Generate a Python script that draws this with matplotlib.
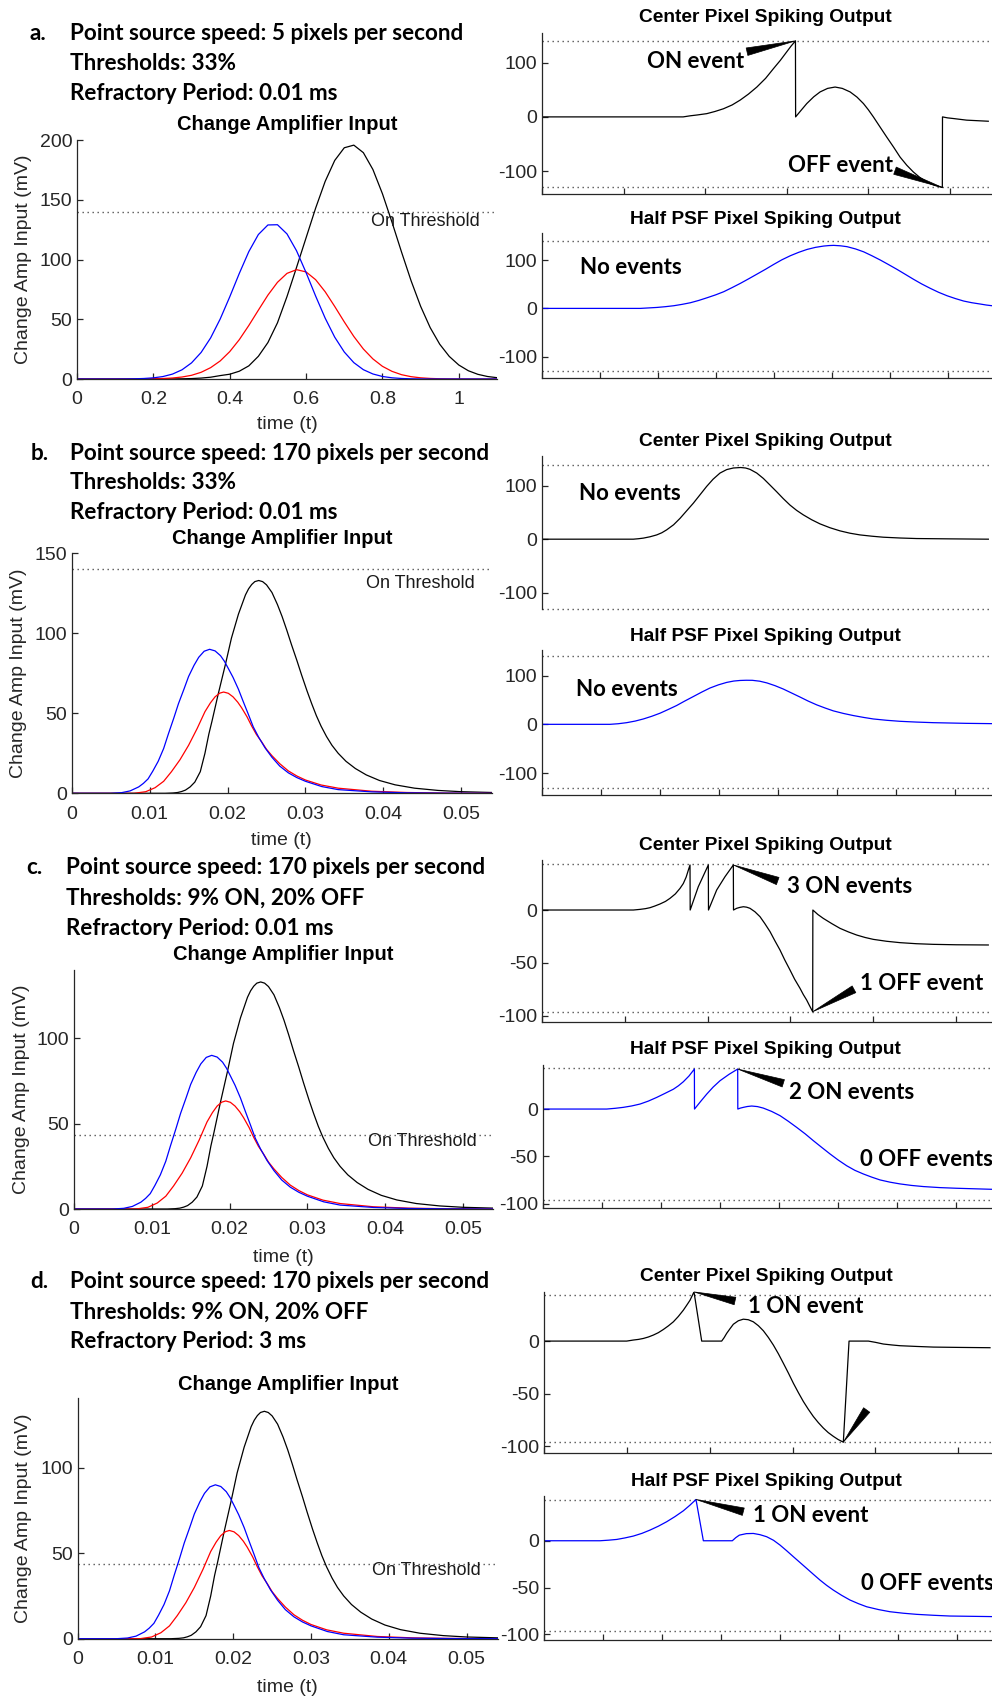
import numpy as np
import matplotlib.pyplot as plt
from matplotlib.patches import ArrowStyle

plt.rcParams['font.family'] = ['Liberation Sans', 'DejaVu Sans']
plt.rcParams['axes.unicode_minus'] = False

# ---------------- data ----------------
# panel a: change amplifier input (time in s, mV)
t_a = [0, 0.05, 0.1, 0.125, 0.15, 0.175, 0.2, 0.225, 0.25, 0.275, 0.3, 0.325, 0.35,
       0.375, 0.4, 0.425, 0.45, 0.475, 0.5, 0.525, 0.55, 0.575, 0.6, 0.625, 0.65,
       0.675, 0.7, 0.725, 0.75, 0.775, 0.8, 0.825, 0.85, 0.875, 0.9, 0.925, 0.95,
       0.975, 1.0, 1.025, 1.05, 1.075, 1.1]
blue_a = [0, 0, 0.02, 0.07, 0.18, 0.43, 0.97, 2.05, 4.1, 7.7, 13.5, 22.2, 34.4,
          50.2, 68.7, 88.3, 106.6, 120.9, 128.9, 129.1, 121.4, 107.3, 89, 69.4, 50.9,
          35, 22.6, 13.7, 7.8, 4.2, 2.1, 1.0, 0.44, 0.18, 0.07, 0.02, 0,
          0, 0, 0, 0, 0, 0]
red_a = [0, 0, 0, 0.01, 0.02, 0.07, 0.18, 0.4, 0.83, 1.66, 3.1, 5.6, 9.5,
         15.1, 22.9, 32.9, 44.8, 57.6, 70.2, 80.9, 88.4, 91.5, 89.6, 83.1, 73,
         60.7, 47.8, 35.6, 25.1, 16.8, 10.6, 6.4, 3.6, 1.94, 0.99, 0.47, 0.22,
         0.1, 0.04, 0.01, 0, 0, 0]
black_a = [0, 0, 0, 0, 0, 0, 0, 0.03, 0.08, 0.17, 0.37, 0.77, 1.5,
           2.85, 4.0, 6.5, 11, 19, 30.5, 47, 69, 93.4, 118.2, 143, 165.4,
           182.9, 193.5, 195.7, 189.4, 175.3, 155, 131.2, 106.2, 82.2, 60.8, 43, 29.1,
           18.9, 11.7, 6.9, 3.9, 2.1, 1.1]

# panels b, c, d share the same change amplifier input (170 px/s)
t_blue = [0, 0.005, 0.0064, 0.0075, 0.0086, 0.0092, 0.0098, 0.0104, 0.0111, 0.0118,
          0.0124, 0.0131, 0.0137, 0.0144, 0.0150, 0.0157, 0.0163, 0.0170, 0.0177,
          0.0184, 0.0191, 0.0196, 0.0201, 0.0207, 0.0214, 0.0220, 0.0227, 0.0233,
          0.0240, 0.0248, 0.0257, 0.0267, 0.0278, 0.0289, 0.0300, 0.0321, 0.0342,
          0.0385, 0.043, 0.048, 0.054]
blue_bcd = [0, 0, 0.4, 1.5, 4, 6.2, 9, 13.8, 20, 28,
            37, 47, 56, 65, 73, 80, 85, 88.8, 90,
            89, 86, 82.5, 78, 72.5, 65, 57.5, 49, 41.5,
            35, 28.5, 22.5, 17, 12.8, 9.8, 7.5, 4.2, 2.3,
            0.9, 0.3, 0.1, 0]
t_red = [0, 0.008, 0.0095, 0.0107, 0.0118, 0.0128, 0.0139, 0.015, 0.0161, 0.0171,
         0.0178, 0.0184, 0.0190, 0.0195, 0.0201, 0.0207, 0.0213, 0.0218, 0.0225,
         0.0231, 0.0237, 0.0244, 0.0250, 0.0257, 0.0267, 0.0278, 0.0289, 0.030,
         0.032, 0.0342, 0.0385, 0.043, 0.048, 0.054]
red_bcd = [0, 0, 1, 3.5, 7.5, 13.5, 21, 30, 40.5, 51,
           56.5, 60.3, 62.6, 63.3, 62.5, 60.3, 57, 53.5, 47.8,
           42, 36.8, 32, 27.5, 23.5, 18.5, 14, 10.8, 8.3,
           5.2, 3.2, 1.3, 0.5, 0.15, 0]
t_black = [0, 0.012, 0.0130, 0.0136, 0.0141, 0.0146, 0.0152, 0.0158, 0.0165, 0.0171,
           0.0176, 0.0180, 0.0188, 0.0197, 0.0205, 0.0214, 0.0223, 0.0227, 0.0231,
           0.0235, 0.0240, 0.0245, 0.0250, 0.0257, 0.0264, 0.0270, 0.0276, 0.0282,
           0.0289, 0.0295, 0.0302, 0.0308, 0.0314, 0.0320, 0.0327, 0.0334, 0.0342,
           0.0352, 0.0364, 0.0378, 0.0395, 0.0415, 0.044, 0.047, 0.050, 0.054]
black_bcd = [0, 0, 0.2, 0.5, 1.1, 2, 4, 7, 13.5, 25,
             37, 45, 62, 80, 97, 112, 124, 127.8, 130.5,
             132.3, 133, 132.3, 130.3, 125.5, 118, 110.5, 102, 93,
             83, 74, 64, 56, 48.5, 42, 35.5, 30, 25,
             20, 15.5, 11.5, 8, 5.3, 3.2, 1.8, 1, 0.5]

# spiking outputs (x in tick units of each unlabeled time axis, mV)
u_a_c = [0, 1.73, 1.816, 1.9, 2.02, 2.12, 2.224, 2.33, 2.429, 2.53, 2.633, 2.74, 2.837,
         2.92, 3.0, 3.05, 3.106, 3.108, 3.18, 3.245, 3.33, 3.408, 3.5, 3.592, 3.68, 3.776,
         3.86, 3.939, 4.0, 4.061, 4.14, 4.224, 4.31, 4.388, 4.47, 4.551, 4.63, 4.714,
         4.81, 4.906, 4.908, 4.97, 5.041, 5.204, 5.469]
v_a_c = [0, 0, 2, 3.5, 6, 10, 15, 22, 31, 42, 55, 71, 89,
         104, 120, 130, 140, 0, 13, 24.6, 37, 46, 52.5, 55, 52.5, 46,
         36.5, 24.6, 13, 0, -18, -37, -56, -74, -89, -101.5, -111.5, -120,
         -126, -130, 0, -1.8, -3, -6, -8]
u_a_h = [0, 1.693, 1.981, 2.12, 2.268, 2.41, 2.555, 2.70, 2.842, 2.99, 3.129, 3.27,
         3.416, 3.56, 3.703, 3.85, 3.99, 4.13, 4.277, 4.42, 4.564, 4.71, 4.851, 4.94,
         5.023, 5.14, 5.253, 5.40, 5.54, 5.68, 5.827, 5.97, 6.114, 6.26, 6.401, 6.54,
         6.688, 6.83, 6.975, 7.12, 7.262, 7.40, 7.549, 7.65, 7.75]
v_a_h = [0, 0, 2, 3.5, 5.5, 8.3, 11.7, 16.5, 22, 28, 34.5, 42.8,
         51.8, 61.3, 71, 81, 91, 100.5, 109, 116, 122, 126.3, 129, 130,
         130.4, 129.5, 127.7, 123, 117, 109, 100, 90.5, 80.7, 70.2, 60, 50.5,
         41.4, 33.3, 26.2, 20.3, 15.2, 11.8, 9, 7, 5.5]

u_b_c = [0, 1.548, 1.63, 1.718, 1.83, 1.944, 2.03, 2.113, 2.23, 2.339, 2.45, 2.565,
         2.68, 2.791, 2.9, 3.017, 3.13, 3.243, 3.367, 3.45, 3.525, 3.64, 3.751, 3.86,
         3.977, 4.09, 4.203, 4.316, 4.429, 4.57, 4.712, 4.88, 5.051, 5.22, 5.39, 5.59,
         5.785, 6.07, 6.35, 6.915, 7.565]
v_b_c = [0, 0, 0.8, 2, 4.5, 8, 12, 17.5, 27, 39, 53, 67.5,
         83.5, 99, 112.5, 124, 130.5, 133.5, 134.4, 133.5, 131, 124, 114, 102,
         89, 76, 64, 54, 45.6, 36.5, 28.7, 21.5, 15.6, 11.2, 8, 5.6,
         3.7, 2.2, 1.2, 0.6, 0]
u_b_h = [0, 1.153, 1.29, 1.435, 1.58, 1.718, 1.86, 2.0, 2.14, 2.282, 2.42, 2.565,
         2.71, 2.847, 2.99, 3.13, 3.25, 3.356, 3.46, 3.565, 3.69, 3.811, 3.95, 4.09,
         4.23, 4.373, 4.51, 4.655, 4.8, 4.938, 5.11, 5.277, 5.45, 5.616, 5.84, 6.068,
         6.35, 6.633, 7.198, 7.621]
v_b_h = [0, 0, 1.2, 3.4, 6.7, 11, 16.5, 22.8, 30.5, 38.6, 47.8, 57,
         66.3, 74.5, 81, 86, 88.8, 90, 90.4, 90.3, 88.5, 85, 79.3, 72.4,
         64.3, 56, 47.8, 40, 33.4, 27.6, 22.3, 18, 14.2, 11, 8.3, 6.2,
         4.6, 3.4, 2, 1.4]

u_c_c = [0, 1.103, 1.183, 1.25, 1.304, 1.36, 1.425, 1.49, 1.545, 1.61, 1.666, 1.706,
         1.74, 1.767, 1.787, 1.789, 1.887, 2.008, 2.010, 2.109, 2.209, 2.31, 2.312, 2.35,
         2.39, 2.431, 2.47, 2.511, 2.57, 2.632, 2.69, 2.753, 2.81, 2.873, 2.93, 2.994,
         3.05, 3.115, 3.155, 3.195, 3.23, 3.268, 3.270, 3.33, 3.396, 3.5, 3.598, 3.7,
         3.799, 3.9, 4.0, 4.16, 4.322, 4.52, 4.724, 5.0, 5.388]
v_c_c = [0, 0, 0.6, 1.3, 2.2, 3.7, 5.7, 8.1, 11, 15.2, 20.4, 25,
         31, 37.7, 42.5, 0, 22, 42.5, 0, 18.9, 31.4, 42.5, 0, 1.6,
         2.5, 3.1, 2.7, 1.6, -1.6, -6.3, -12.8, -20.4, -28.8, -37.7, -47, -56.6,
         -65.3, -73.9, -79.8, -84.9, -90.3, -96, 0, -4.2, -7.9, -12.9, -17.3, -20.7,
         -23.6, -25.9, -27.7, -29.5, -30.8, -31.8, -32.4, -32.8, -33]
u_c_h = [0, 1.085, 1.23, 1.367, 1.51, 1.65, 1.79, 1.932, 2.07, 2.215, 2.30, 2.384,
         2.48, 2.571, 2.573, 2.68, 2.78, 2.89, 3.006, 3.16, 3.305, 3.307, 3.35, 3.401,
         3.47, 3.542, 3.64, 3.74, 3.88, 4.023, 4.16, 4.305, 4.45, 4.588, 4.73, 4.87,
         5.01, 5.153, 5.29, 5.435, 5.58, 5.718, 5.89, 6.056, 6.25, 6.452, 6.73, 7.017,
         7.61]
v_c_h = [0, 0, 0.8, 1.8, 3.3, 5.3, 8.4, 12.3, 16.5, 21, 24.6, 28.9,
         35, 42.3, 0, 8.3, 15.8, 23.3, 30, 36.8, 42.3, 0, 1, 1.8,
         2.7, 3.2, 2.6, 1, -2.5, -7, -12.8, -19.4, -26.3, -33.5, -40.6, -47.5,
         -54, -60, -64.8, -68.7, -72.1, -75, -77.4, -79.2, -80.8, -82, -83.1, -83.8,
         -84.9]

u_d_c = [0, 0.998, 1.078, 1.14, 1.199, 1.26, 1.319, 1.38, 1.44, 1.50, 1.561, 1.62,
         1.681, 1.72, 1.762, 1.81, 1.903, 2.144, 2.174, 2.204, 2.245, 2.285, 2.345, 2.405,
         2.465, 2.526, 2.587, 2.647, 2.708, 2.768, 2.828, 2.888, 2.95, 3.009, 3.07, 3.13,
         3.19, 3.25, 3.31, 3.371, 3.43, 3.492, 3.55, 3.612, 3.681, 3.914, 4.0, 4.095,
         4.2, 4.296, 4.5, 4.698, 5.0, 5.382]
v_d_c = [0, 0, 1, 1.6, 2.5, 3.9, 5.7, 8, 11, 14.4, 18.3, 23.3,
         29.3, 33.8, 38.8, 46.7, 0, 0, 3.3, 7.3, 11.8, 16, 19.3, 20.8,
         20.3, 18.3, 14.6, 9.8, 3.4, -3.8, -12, -21, -30.5, -40, -49, -57.4,
         -64.8, -71.6, -77.4, -82.6, -86.9, -90.5, -93.5, -96, 0, 0, -1.2, -2.8,
         -3.7, -4.4, -5.1, -5.7, -6.0, -6.3]
u_d_h = [0, 0.949, 1.09, 1.232, 1.37, 1.514, 1.66, 1.797, 1.94, 2.079, 2.22, 2.362,
         2.47, 2.576, 2.701, 3.192, 3.25, 3.311, 3.43, 3.548, 3.66, 3.774, 3.89, 4.0,
         4.11, 4.226, 4.34, 4.452, 4.565, 4.678, 4.79, 4.904, 5.045, 5.186, 5.33, 5.469,
         5.67, 5.864, 6.09, 6.316, 6.6, 6.881, 7.588]
v_d_h = [0, 0, 0.6, 1.4, 3, 5, 7.9, 11.4, 15.6, 20.3, 25.8, 32,
         37.8, 44.1, 0, 0, 3.3, 6, 7.6, 7.8, 6.5, 4.3, 0.5, -4.6,
         -10.5, -17, -23.3, -29.5, -35.8, -42, -47.6, -52.7, -58.3, -63.3, -67.2, -70.5,
         -73.5, -75.8, -77.4, -78.6, -79.6, -80.4, -81]

# thresholds (mV)
on_thr_33 = 140
off_thr_33 = -130
on_thr_9 = 43.4
off_thr_20 = -96

headings = {
    'a': ["Point source speed: 5 pixels per second", "Thresholds: 33%",
          "Refractory Period: 0.01 ms"],
    'b': ["Point source speed: 170 pixels per second", "Thresholds: 33%",
          "Refractory Period: 0.01 ms"],
    'c': ["Point source speed: 170 pixels per second", "Thresholds: 9% ON, 20% OFF",
          "Refractory Period: 0.01 ms"],
    'd': ["Point source speed: 170 pixels per second", "Thresholds: 9% ON, 20% OFF",
          "Refractory Period: 3 ms"],
}

# ---------------- layout helpers (pixel boxes, top-left origin) ----------------
W, H = 992, 1697
fig = plt.figure(figsize=(W / 100, H / 100), dpi=100)

AXC = '#262626'
DOT = dict(color='#555555', lw=1.0, ls=(0, (1, 2.6)))
HEAD_FONT = 'Lato'
LW = 0.9


def box(x0, y0, x1, y1):
    return [x0 / W, 1 - y1 / H, (x1 - x0) / W, (y1 - y0) / H]


def fpt(x, y):
    return (x / W, 1 - y / H)


def style(ax, fs):
    ax.spines['top'].set_visible(False)
    ax.spines['right'].set_visible(False)
    for s in ['left', 'bottom']:
        ax.spines[s].set_color(AXC)
        ax.spines[s].set_linewidth(0.9)
    ax.tick_params(direction='in', length=4.5, width=0.9, colors=AXC, labelsize=fs)
    ax.patch.set_alpha(0)


def ftext(x, y, s, **kw):
    fig.text(*fpt(x, y), s, **kw)


# ---------------- left column: change amplifier input ----------------
left_panels = [
    dict(box=(77, 140, 497, 379), data=[(t_a, blue_a), (t_a, red_a), (t_a, black_a)],
         xlim=(0, 1.1), xticks=[0, 0.2, 0.4, 0.6, 0.8, 1.0],
         xlabels=['0', '0.2', '0.4', '0.6', '0.8', '1'],
         ylim=(0, 200), yticks=[0, 50, 100, 150, 200], thr=on_thr_33,
         thr_txt=(371, 222), title_y=124, ylab_x=24, xlab_y=425),
    dict(box=(71.7, 553.3, 491.7, 793.3),
         data=[(t_blue, blue_bcd), (t_red, red_bcd), (t_black, black_bcd)],
         xlim=(0, 0.0539), xticks=[0, 0.01, 0.02, 0.03, 0.04, 0.05],
         xlabels=['0', '0.01', '0.02', '0.03', '0.04', '0.05'],
         ylim=(0, 150), yticks=[0, 50, 100, 150], thr=on_thr_33,
         thr_txt=(365.7, 583.3), title_y=538.3, ylab_x=19, xlab_y=840),
    dict(box=(74, 970, 493.3, 1209),
         data=[(t_blue, blue_bcd), (t_red, red_bcd), (t_black, black_bcd)],
         xlim=(0, 0.0539), xticks=[0, 0.01, 0.02, 0.03, 0.04, 0.05],
         xlabels=['0', '0.01', '0.02', '0.03', '0.04', '0.05'],
         ylim=(0, 140), yticks=[0, 50, 100], thr=on_thr_9,
         thr_txt=(367.7, 1141.7), title_y=954, ylab_x=22, xlab_y=1258),
    dict(box=(77.7, 1398.3, 497.7, 1638.7),
         data=[(t_blue, blue_bcd), (t_red, red_bcd), (t_black, black_bcd)],
         xlim=(0, 0.054), xticks=[0, 0.01, 0.02, 0.03, 0.04, 0.05],
         xlabels=['0', '0.01', '0.02', '0.03', '0.04', '0.05'],
         ylim=(0, 140.6), yticks=[0, 50, 100], thr=on_thr_9,
         thr_txt=(371.7, 1570.7), title_y=1384, ylab_x=24, xlab_y=1687),
]

for p in left_panels:
    ax = fig.add_axes(box(*p['box']))
    style(ax, 14)
    ax.axhline(p['thr'], **DOT)
    # black first so blue/red draw on top like the original
    (tb, yb), (tr, yr), (tk, yk) = p['data']
    ax.plot(tk, yk, color='black', lw=LW)
    ax.plot(tr, yr, color='#ff0000', lw=LW)
    ax.plot(tb, yb, color='#0000ff', lw=LW)
    ax.set_xlim(*p['xlim'])
    ax.set_ylim(*p['ylim'])
    ax.set_xticks(p['xticks'])
    ax.set_xticklabels(p['xlabels'])
    ax.set_yticks(p['yticks'])
    ax.tick_params(axis='x', pad=9)
    x0, y0, x1, y1 = p['box']
    ftext((x0 + x1) / 2, p['title_y'], 'Change Amplifier Input', ha='center',
          va='center', fontsize=14.5, fontweight='bold')
    ftext(p['ylab_x'], (y0 + y1) / 2, 'Change Amp Input (mV)', ha='center',
          va='center', rotation=90, fontsize=14, color=AXC)
    ftext((x0 + x1) / 2, p['xlab_y'], 'time (t)', ha='center', va='center',
          fontsize=14, color=AXC)
    ftext(p['thr_txt'][0], p['thr_txt'][1], 'On Threshold', ha='left', va='center',
          fontsize=13, color='#1a1a1a')

# ---------------- headings ----------------
head_pos = {'a': (30, 70, [33, 63, 94]), 'b': (30.7, 70, [453.3, 482.7, 512.7]),
            'c': (26.7, 65.7, [867.7, 898.3, 928.7]), 'd': (30, 70, [1281.7, 1312.7, 1342])}
for key, lines in headings.items():
    xl, xt, ys = head_pos[key]
    ftext(xl, ys[0], key + '.', ha='left', va='center', fontsize=16.2,
          fontweight='bold', family=HEAD_FONT)
    for s, y in zip(lines, ys):
        ftext(xt, y, s, ha='left', va='center', fontsize=16.2, fontweight='bold',
              family=HEAD_FONT)

# ---------------- right column: spiking outputs ----------------
right_panels = [
    dict(box=(542, 33.3, 992, 194.3), u=u_a_c, v=v_a_c, col='black', ylim=(-142.6, 154),
         yticks=[-100, 0, 100], nt=6, thr=(on_thr_33, off_thr_33),
         title='Center Pixel Spiking Output', title_y=18),
    dict(box=(542, 233, 992, 378), u=u_a_h, v=v_a_h, col='#0000ff', ylim=(-144, 156),
         yticks=[-100, 0, 100], nt=8, thr=(on_thr_33, off_thr_33),
         title='Half PSF Pixel Spiking Output', title_y=220),
    dict(box=(542, 456, 992, 609.3), u=u_b_c, v=v_b_c, col='black', ylim=(-131.5, 156),
         yticks=[-100, 0, 100], nt=0, thr=(on_thr_33, off_thr_33),
         title='Center Pixel Spiking Output', title_y=441.7),
    dict(box=(542, 650, 992, 795), u=u_b_h, v=v_b_h, col='#0000ff', ylim=(-145, 152.5),
         yticks=[-100, 0, 100], nt=8, thr=(on_thr_33, off_thr_33),
         title='Half PSF Pixel Spiking Output', title_y=636.7),
    dict(box=(542, 860, 992, 1021.7), u=u_c_c, v=v_c_c, col='black', ylim=(-105.4, 47.2),
         yticks=[-100, -50, 0], nt=6, thr=(on_thr_9, off_thr_20),
         title='Center Pixel Spiking Output', title_y=845.7),
    dict(box=(542.7, 1065, 992, 1208.3), u=u_c_h, v=v_c_h, col='#0000ff', ylim=(-105, 46.6),
         yticks=[-100, -50, 0], nt=8, thr=(on_thr_9, off_thr_20),
         title='Half PSF Pixel Spiking Output', title_y=1050),
    dict(box=(544, 1291.7, 992, 1452.7), u=u_d_c, v=v_d_c, col='black', ylim=(-106, 46.9),
         yticks=[-100, -50, 0], nt=6, thr=(on_thr_9, off_thr_20),
         title='Center Pixel Spiking Output', title_y=1276.7),
    dict(box=(544, 1496, 992, 1640), u=u_d_h, v=v_d_h, col='#0000ff', ylim=(-106, 47.8),
         yticks=[-100, -50, 0], nt=8, thr=(on_thr_9, off_thr_20),
         title='Half PSF Pixel Spiking Output', title_y=1481.7),
]
tick_px = [81.6, 58.07, 59, 59, 82.83, 59, 82.87, 59]

raxes = []
for p, tp in zip(right_panels, tick_px):
    ax = fig.add_axes(box(*p['box']))
    style(ax, 14)
    x0, y0, x1, y1 = p['box']
    ax.set_xlim(0, (x1 - x0) / tp)
    ax.set_ylim(*p['ylim'])
    ax.axhline(p['thr'][0], **DOT)
    ax.axhline(p['thr'][1], clip_on=False, **DOT)
    ax.plot(p['u'], p['v'], color=p['col'], lw=LW)
    ax.set_yticks(p['yticks'])
    if p['nt']:
        ax.set_xticks(range(p['nt']))
        ax.set_xticklabels([])
    else:
        ax.spines['bottom'].set_visible(False)
        ax.set_xticks([])
    ftext((x0 + x1) / 2 - 2, p['title_y'], p['title'], ha='center', va='center',
          fontsize=13.8, fontweight='bold')
    raxes.append(ax)

# ---------------- event labels and wedge pointers ----------------
def label(x, y, s):
    ftext(x, y, s, ha='left', va='center', fontsize=16, fontweight='bold',
          family=HEAD_FONT)


def on_tip(u, v):
    vv = np.array(v)
    i = np.where(vv == vv.max())[0][-1]
    return (u[i], v[i])


def off_tip(u, v):
    i = int(np.argmin(v))
    return (u[i], v[i])


def wedge(ax, tip, tail):
    ax.annotate('', xy=tip, xycoords='data', xytext=fpt(*tail),
                textcoords='figure fraction', annotation_clip=False,
                arrowprops=dict(arrowstyle=ArrowStyle.Wedge(tail_width=0.55, shrink_factor=0.5),
                                mutation_scale=10, fc='black', ec='black', lw=0.5,
                                shrinkA=0, shrinkB=0))


label(646.7, 61, 'ON event')
wedge(raxes[0], on_tip(u_a_c, v_a_c), (747, 51.7))
label(788, 165, 'OFF event')
wedge(raxes[0], off_tip(u_a_c, v_a_c), (895, 170.7))
label(580, 268, 'No events')
label(579, 493, 'No events')
label(576, 690, 'No events')
label(787.3, 886.7, '3 ON events')
wedge(raxes[4], on_tip(u_c_c, v_c_c), (777.7, 881))
label(860, 984, '1 OFF event')
wedge(raxes[4], off_tip(u_c_c, v_c_c), (854, 989.3))
label(789.3, 1092.7, '2 ON events')
wedge(raxes[5], on_tip(u_c_h, v_c_h), (783.3, 1083.3))
label(860, 1160, '0 OFF events')
label(748.3, 1306.7, '1 ON event')
wedge(raxes[6], on_tip(u_d_c, v_d_c), (735, 1301))
wedge(raxes[6], off_tip(u_d_c, v_d_c), (866.7, 1410))
label(753.3, 1515, '1 ON event')
wedge(raxes[7], on_tip(u_d_h, v_d_h), (743.3, 1511.7))
label(860.7, 1583.3, '0 OFF events')

fig.savefig('out.png', dpi=100)
